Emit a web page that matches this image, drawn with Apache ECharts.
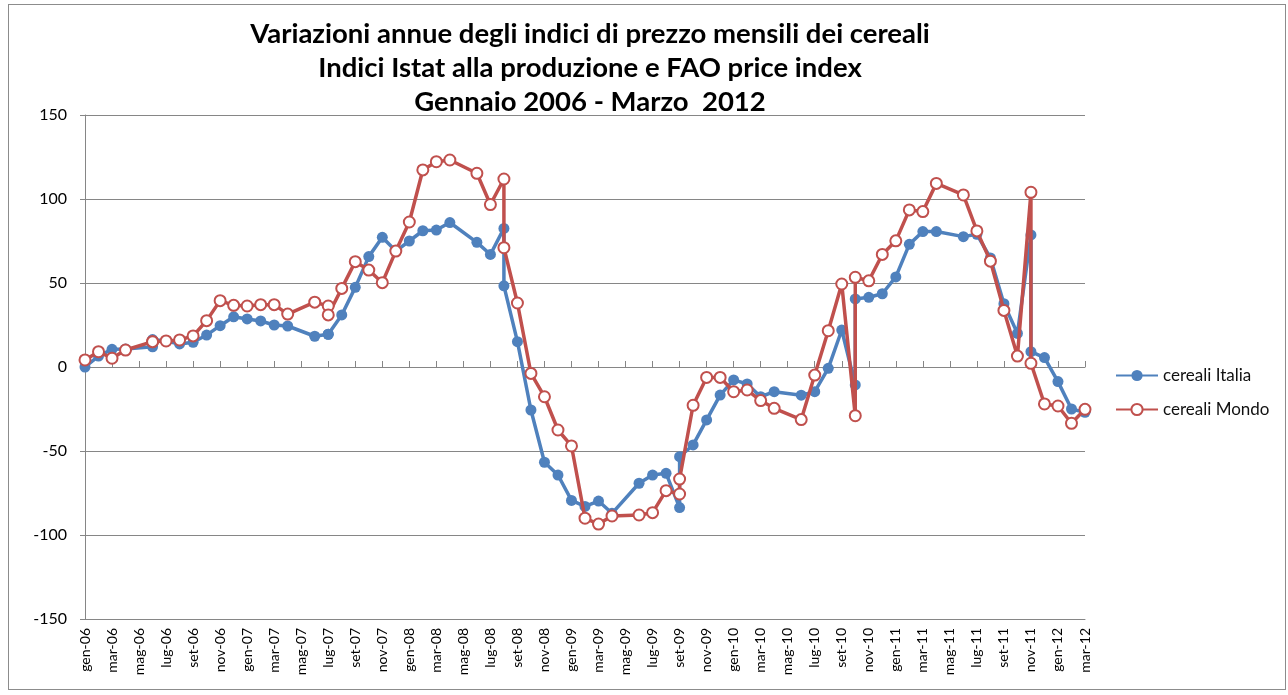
<!DOCTYPE html>
<html>
<head>
    <meta charset="UTF-8">
    <script src="https://cdn.jsdelivr.net/npm/echarts@6/dist/echarts.min.js"></script>
    <style>
        html, body {margin: 0; padding: 0; background: #fff;}
        #frame {position: absolute; left: 8px; top: 4px; width: 1276px; height: 684px; border: 1px solid #8c8c8c;}
        #chartMain {position: absolute; left: 0; top: 0; width: 1288px; height: 695px;}
    </style>
</head>
<body>
<div id="frame"></div>
<div id="chartMain"></div>

<script type="text/javascript">
    // mesi dell'asse (gen-06 ... mar-12)
    var monthNames = ['gen', 'feb', 'mar', 'apr', 'mag', 'giu', 'lug', 'ago', 'set', 'ott', 'nov', 'dic'];
    var years = ['06', '07', '08', '09', '10', '11', '12'];
    var axisMonths = [];
    for (var y = 0; y < years.length; y++) {
        for (var m = 0; m < 12; m++) {
            if (y === years.length - 1 && m > 2) break;
            axisMonths.push(monthNames[m] + '-' + years[y]);
        }
    }

    // data di ogni riga (stessa per le due serie)
    var pointMonths = [
        'gen-06', 'feb-06', 'mar-06', 'apr-06', 'giu-06', 'giu-06', 'lug-06', 'ago-06', 'set-06', 'ott-06', 'nov-06', 'dic-06',
        'gen-07', 'feb-07', 'mar-07', 'apr-07', 'giu-07', 'lug-07', 'lug-07', 'ago-07', 'set-07', 'ott-07', 'nov-07', 'dic-07',
        'gen-08', 'feb-08', 'mar-08', 'apr-08', 'giu-08', 'lug-08', 'ago-08', 'ago-08', 'set-08', 'ott-08', 'nov-08', 'dic-08',
        'gen-09', 'feb-09', 'mar-09', 'apr-09', 'giu-09', 'lug-09', 'ago-09', 'set-09', 'set-09', 'ott-09', 'nov-09', 'dic-09',
        'gen-10', 'feb-10', 'mar-10', 'apr-10', 'giu-10', 'lug-10', 'ago-10', 'set-10', 'ott-10', 'ott-10', 'nov-10', 'dic-10',
        'gen-11', 'feb-11', 'mar-11', 'apr-11', 'giu-11', 'lug-11', 'ago-11', 'set-11', 'ott-11', 'nov-11', 'nov-11', 'dic-11',
        'gen-12', 'feb-12', 'mar-12'
    ];

    var cerealiItalia = [
        0, 6.5, 10.5, 10.7, 12, 16.3, 15.5, 13.7, 14.7, 19, 24.6, 29.9,
        28.6, 27.4, 25, 24.4, 18.3, 19.5, 19.5, 31, 47.4, 65.7, 77.2, 69,
        75, 81.1, 81.5, 86, 74.2, 67, 82.5, 48.3, 15.1, -25.6, -56.7, -64.3,
        -79.4, -83, -79.8, -87.1, -69.2, -64.3, -63.3, -83.7, -53.4, -46.4, -31.5, -16.7,
        -7.7, -10.1, -17.7, -14.7, -16.8, -14.7, -0.8, 22, -10.7, 40.5, 41.5, 43.6,
        53.6, 73, 80.6, 80.6, 77.6, 79, 64.9, 37.7, 20, 78.6, 9.1, 5.6,
        -8.7, -25, -27
    ];

    var cerealiMondo = [
        4.2, 9.1, 5.2, 10.1, 15.1, 15.1, 15.5, 16.1, 18.5, 27.6, 39.5, 36.7,
        36.3, 37.1, 37.1, 31.5, 38.6, 36.3, 31, 46.8, 62.7, 57.7, 50.2, 69,
        86.3, 117.3, 122.2, 123.2, 115.3, 96.7, 111.9, 71, 38.1, -3.8, -17.7, -37.5,
        -47, -90, -93.5, -88.7, -88.1, -86.7, -73.6, -75.6, -66.7, -22.8, -6.2, -6.2,
        -14.7, -13.7, -20, -24.6, -31.3, -4.8, 21.6, 49.4, -29, 53.4, 51.3, 67,
        75.1, 93.5, 92.5, 109.3, 102.4, 81, 63, 33.7, 6.5, 104, 2.2, -22,
        -23.2, -33.5, -25.2
    ];

    var yTicks = [-150, -100, -50, 0, 50, 100, 150];

    function toPoints(values) {
        var out = [];
        for (var i = 0; i < values.length; i++) {
            out.push([axisMonths.indexOf(pointMonths[i]), values[i]]);
        }
        return out;
    }

    var fontName = 'Lato, "Open Sans", sans-serif';
    var myChart = echarts.init(document.getElementById('chartMain'));
    var option = {
        animation: false,
        title: {
            text: 'Variazioni annue degli indici di prezzo mensili dei cereali\nIndici Istat alla produzione e FAO price index\nGennaio 2006 - Marzo  2012',
            left: 585,
            top: 12,
            textAlign: 'center',
            textStyle: {fontFamily: fontName, fontSize: 27.5, fontWeight: 'bold', color: '#000', lineHeight: 34}
        },
        grid: {left: 85, right: 203, top: 115, bottom: 76},
        legend: {
            orient: 'vertical',
            left: 1110,
            top: 362,
            itemGap: 17,
            itemWidth: 42,
            itemHeight: 14,
            textStyle: {fontFamily: fontName, fontSize: 17, color: '#111'},
            data: ['cereali Italia', 'cereali Mondo']
        },
        xAxis: [{
            type: 'value',
            min: 0,
            max: axisMonths.length - 1,
            interval: 2,
            axisLine: {onZero: false, lineStyle: {color: '#868686'}},
            axisTick: {show: false},
            splitLine: {show: false},
            axisLabel: {
                rotate: 90,
                margin: 9,
                fontFamily: fontName,
                fontSize: 14,
                color: '#000',
                formatter: function (v) { return axisMonths[v] || ''; }
            }
        }, {
            type: 'value',
            min: 0,
            max: axisMonths.length - 1,
            interval: 2,
            axisLine: {onZero: true, lineStyle: {color: '#868686'}},
            axisTick: {show: true, length: 6, lineStyle: {color: '#868686'}},
            splitLine: {show: false},
            axisLabel: {show: false}
        }],
        yAxis: {
            type: 'value',
            min: yTicks[0],
            max: yTicks[yTicks.length - 1],
            interval: 50,
            axisLine: {show: true, lineStyle: {color: '#868686'}},
            axisTick: {show: true, length: 5, lineStyle: {color: '#868686'}},
            splitLine: {lineStyle: {color: '#868686', width: 1}},
            axisLabel: {fontFamily: fontName, fontSize: 16, color: '#000', margin: 18}
        },
        series: [{
            name: 'cereali Italia',
            type: 'line',
            data: toPoints(cerealiItalia),
            symbol: 'circle',
            symbolSize: 11,
            itemStyle: {color: '#4F81BD'},
            lineStyle: {width: 3.5, color: '#4F81BD'},
            z: 2
        }, {
            name: 'cereali Mondo',
            type: 'line',
            data: toPoints(cerealiMondo),
            symbol: 'emptyCircle',
            symbolSize: 11,
            itemStyle: {color: '#C0504D', borderWidth: 1.5},
            lineStyle: {width: 3.5, color: '#C0504D'},
            z: 3
        }]
    };
    myChart.setOption(option);
</script>
</body>
</html>
